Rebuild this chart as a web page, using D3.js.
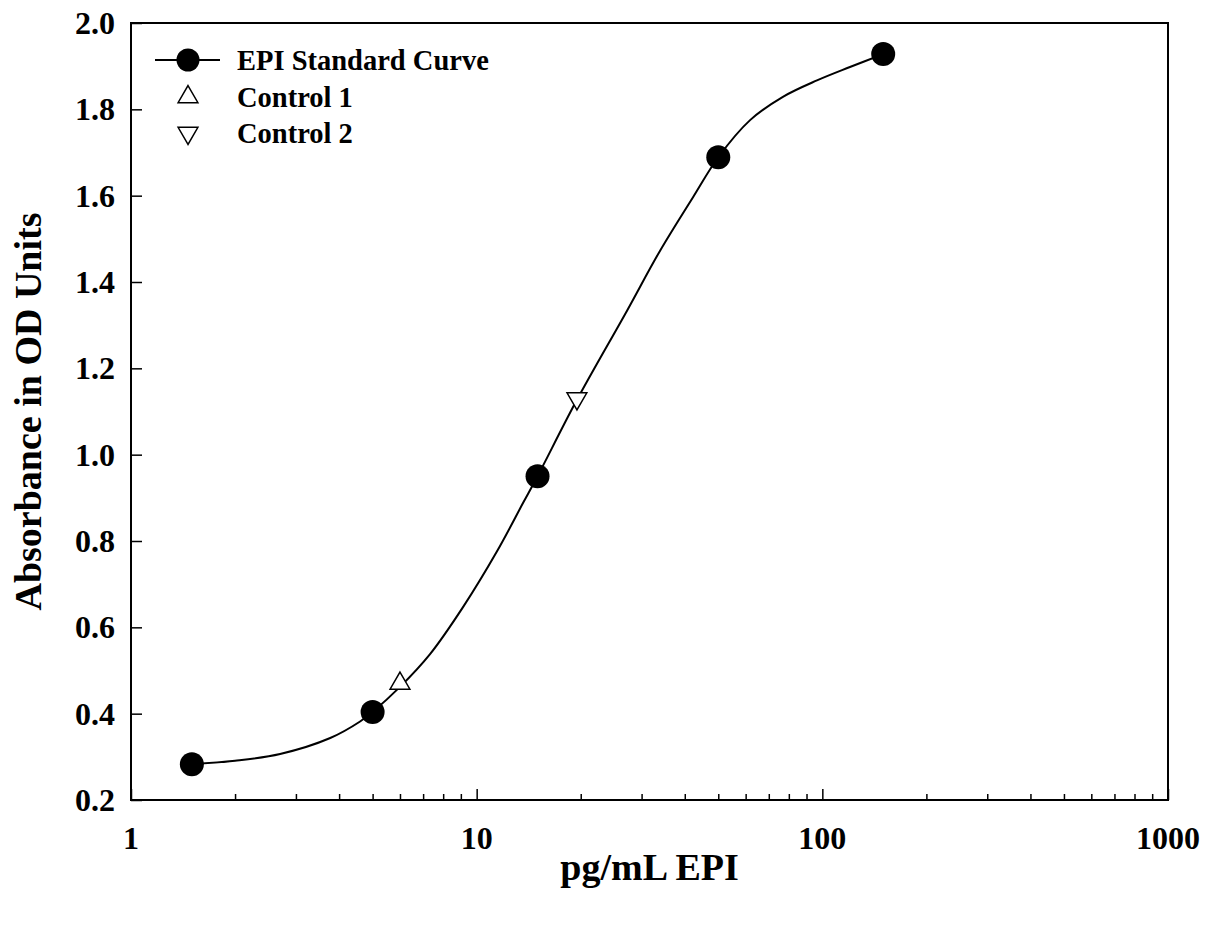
<!DOCTYPE html>
<html>
<head>
<meta charset="utf-8">
<script src="https://cdn.jsdelivr.net/npm/d3@7"></script>
<style>
  html, body { margin: 0; padding: 0; background: #fff; }
  svg text { font-family: "Liberation Serif", "Times New Roman", serif; font-weight: bold; fill: #000; }
</style>
</head>
<body>
<svg id="chart" width="1208" height="926"></svg>
<script>
// ---- data ----
const stdConc = [1.5, 5, 15, 50, 150];
const stdOD = [0.283, 0.404, 0.950, 1.689, 1.928];
const ctrl1Conc = [6.0];
const ctrl1OD = [0.470];
const ctrl2Conc = [19.5];
const ctrl2OD = [1.130];
// fitted standard curve
const curveConc = [1.5, 2.0, 2.70, 3.77, 4.60, 5, 6.0, 7.33, 9.15, 11.43, 13.64, 15, 19.5, 27.2, 33.9, 42.3, 50, 61.8, 76.9, 96.5, 120.2, 150];
const curveOD = [0.283, 0.291, 0.3066, 0.3436, 0.3819, 0.404, 0.462, 0.538, 0.648, 0.775, 0.889, 0.950, 1.127, 1.333, 1.472, 1.597, 1.689, 1.775, 1.829, 1.867, 1.898, 1.928];
const xTickValues = [1, 10, 100, 1000];
const yTickValues = [0.2, 0.4, 0.6, 0.8, 1.0, 1.2, 1.4, 1.6, 1.8, 2.0];
const legendLabels = ["EPI Standard Curve", "Control 1", "Control 2"];
const xTitle = "pg/mL EPI";
const yTitle = "Absorbance in OD Units";

// ---- layout ----
const L = 131, T = 23, R = 1168, B = 800;
const svg = d3.select("#chart");
const x = d3.scaleLog().domain([1, 1000]).range([L, R]);
const y = d3.scaleLinear().domain([0.2, 2.0]).range([B, T]);

function label(parent, px, py, txt, size, anchor, rot) {
  return parent.append("text")
    .attr("transform", `translate(${px},${py})` + (rot ? ` rotate(${rot})` : ""))
    .attr("text-anchor", anchor).attr("font-size", size).text(txt);
}

// minor ticks
const minor = [];
for (let d = 1; d < 1000; d *= 10) for (let k = 2; k <= 9; k++) minor.push(d * k);

const g = svg.append("g");

// x axis major + minor ticks (inward)
g.append("g").attr("transform", `translate(0,${B})`)
  .call(d3.axisBottom(x).tickValues(xTickValues).tickSize(-11).tickFormat(""))
  .call(s => s.select(".domain").remove())
  .call(s => s.selectAll("line").attr("stroke", "#000").attr("stroke-width", 1.5));
g.append("g").attr("transform", `translate(0,${B})`)
  .call(d3.axisBottom(x).tickValues(minor).tickSize(-6).tickFormat(""))
  .call(s => s.select(".domain").remove())
  .call(s => s.selectAll("line").attr("stroke", "#000").attr("stroke-width", 1.5));
xTickValues.forEach(v => label(g, x(v), 849, d3.format("d")(v), 32, "middle"));

// y axis ticks (inward)
g.append("g").attr("transform", `translate(${L},0)`)
  .call(d3.axisLeft(y).tickValues(yTickValues).tickSize(-11).tickFormat(""))
  .call(s => s.select(".domain").remove())
  .call(s => s.selectAll("line").attr("stroke", "#000").attr("stroke-width", 1.5));
yTickValues.forEach(v => label(g, 115, y(v) + 11, d3.format(".1f")(v), 32, "end"));

// frame
g.append("rect").attr("x", L).attr("y", T).attr("width", R - L).attr("height", B - T)
  .attr("fill", "none").attr("stroke", "#000").attr("stroke-width", 2);

// titles
label(svg, (L + R) / 2, 880, xTitle, 38, "middle");
label(svg, 41, (T + B) / 2, yTitle, 38, "middle", -90);

// curve
const curvePts = curveConc.map((c, i) => [c, curveOD[i]]);
const line = d3.line().x(d => x(d[0])).y(d => y(d[1])).curve(d3.curveCatmullRom.alpha(0.5));
svg.append("path").datum(curvePts).attr("d", line)
  .attr("fill", "none").attr("stroke", "#000").attr("stroke-width", 2);

// points
const tri = d3.symbol().type(d3.symbolTriangle).size(170);
svg.selectAll(".std").data(stdConc.map((c, i) => [c, stdOD[i]])).enter().append("circle")
  .attr("cx", d => x(d[0])).attr("cy", d => y(d[1])).attr("r", 12).attr("fill", "#000");
svg.selectAll(".c1").data(ctrl1Conc.map((c, i) => [c, ctrl1OD[i]])).enter().append("path")
  .attr("d", tri).attr("transform", d => `translate(${x(d[0])},${y(d[1])})`)
  .attr("fill", "#fff").attr("stroke", "#000").attr("stroke-width", 1.5);
svg.selectAll(".c2").data(ctrl2Conc.map((c, i) => [c, ctrl2OD[i]])).enter().append("path")
  .attr("d", tri).attr("transform", d => `translate(${x(d[0])},${y(d[1])}) rotate(180)`)
  .attr("fill", "#fff").attr("stroke", "#000").attr("stroke-width", 1.5);

// legend
const lg = svg.append("g");
const rowsY = [60, 97, 133];
lg.append("line").attr("x1", 155).attr("x2", 220).attr("y1", rowsY[0]).attr("y2", rowsY[0])
  .attr("stroke", "#000").attr("stroke-width", 2);
lg.append("circle").attr("cx", 188).attr("cy", rowsY[0]).attr("r", 11.5).attr("fill", "#000");
lg.append("path").attr("d", tri).attr("transform", `translate(188,${rowsY[1]})`)
  .attr("fill", "#fff").attr("stroke", "#000").attr("stroke-width", 1.5);
lg.append("path").attr("d", tri).attr("transform", `translate(188,${rowsY[2]}) rotate(180)`)
  .attr("fill", "#fff").attr("stroke", "#000").attr("stroke-width", 1.5);
legendLabels.forEach((t, i) => label(lg, 237, rowsY[i] + 10, t, 28.5, "start"));
</script>
</body>
</html>
